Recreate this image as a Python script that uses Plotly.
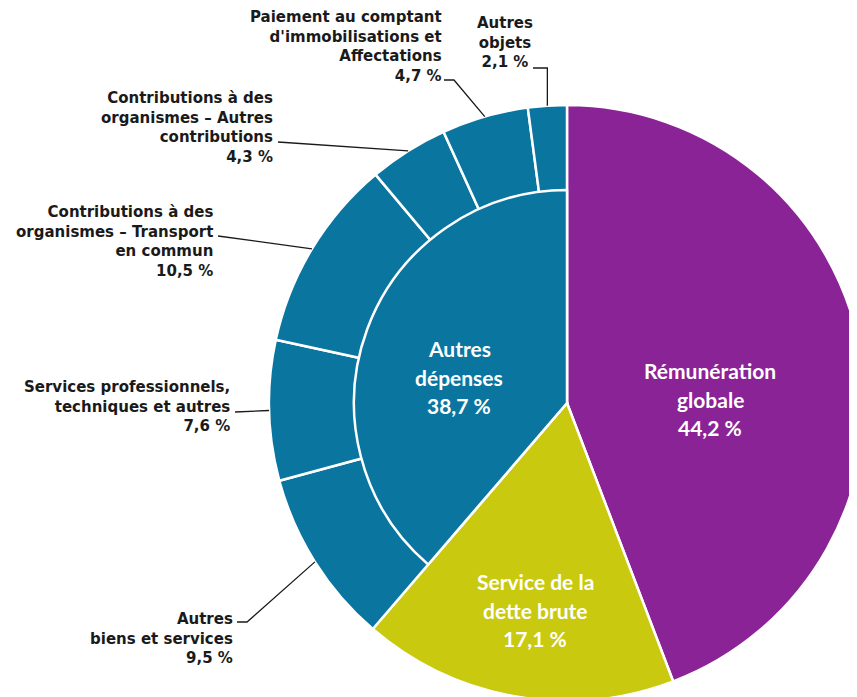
import math
import plotly.graph_objects as go

W, H = 857, 697
OFF = 8  # page body margin: the figure starts 8 px right and down

# ---- data ----
inner_labels = ["Rémunération globale", "Service de la dette brute", "Autres dépenses"]
inner_values = [44.2, 17.1, 38.7]

outer_labels = [
    "Rémunération globale",
    "Service de la dette brute",
    "Autres biens et services",
    "Services professionnels, techniques et autres",
    "Contributions à des organismes – Transport en commun",
    "Contributions à des organismes – Autres contributions",
    "Paiement au comptant d'immobilisations et Affectations",
    "Autres objets",
]
outer_values = [44.2, 17.1, 9.5, 7.6, 10.5, 4.3, 4.7, 2.1]

# text as shown on the chart (line breaks)
inner_text = [["Rémunération", "globale"], ["Service de la", "dette brute"], ["Autres", "dépenses"]]
outer_text = [
    None,
    None,
    ["Autres", "biens et services"],
    ["Services professionnels,", "techniques et autres"],
    ["Contributions à des", "organismes – Transport", "en commun"],
    ["Contributions à des", "organismes – Autres", "contributions"],
    ["Paiement au comptant", "d'immobilisations et", "Affectations"],
    ["Autres", "objets"],
]

PURPLE = "#8a2396"
YELLOW = "#c9c90f"
BLUE = "#0a76a0"
outer_colors = [PURPLE, YELLOW] + [BLUE] * 6
inner_colors = ["rgba(0,0,0,0)", "rgba(0,0,0,0)", BLUE]

# ---- geometry (page pixels) ----
CX, CY, R = 567, 403, 298
R_IN = 213


def paper(x, y):
    return (x - OFF) / W, 1 - (y - OFF) / H


def fmt(v):
    return f"{v:.1f}".replace(".", ",") + " %"


fx0, fy0 = CX - OFF, CY - OFF  # centre in figure pixels

fig = go.Figure()
fig.add_trace(go.Pie(
    labels=outer_labels, values=outer_values, sort=False, direction="clockwise",
    rotation=0, textinfo="none", hoverinfo="label+value",
    marker=dict(colors=outer_colors, line=dict(color="white", width=2.5)),
    domain=dict(x=[(fx0 - R) / W, min(1, (fx0 + R) / W)],
                y=[(H - fy0 - R) / H, (H - fy0 + R) / H]),
    showlegend=False,
))
fig.add_trace(go.Pie(
    labels=inner_labels, values=inner_values, sort=False, direction="clockwise",
    rotation=0, textinfo="none", hoverinfo="label+value",
    marker=dict(colors=inner_colors,
                line=dict(color="white", width=[0, 0, 2.5])),
    domain=dict(x=[(fx0 - R_IN) / W, (fx0 + R_IN) / W],
                y=[(H - fy0 - R_IN) / H, (H - fy0 + R_IN) / H]),
    showlegend=False,
))

annotations = []
shapes = []

# centre labels (white)
inner_pos = [(710, 399), (535, 610), (459, 377)]
step = 28.5
for lines, v, (x, y) in zip(inner_text, inner_values, inner_pos):
    all_lines = lines + [fmt(v)]
    y0 = y - step * (len(all_lines) - 1) / 2
    for k, ln in enumerate(all_lines):
        px_, py_ = paper(x, y0 + k * step)
        annotations.append(dict(
            x=px_, y=py_, xref="paper", yref="paper", text=ln, showarrow=False,
            xanchor="center", yanchor="middle",
            font=dict(family="Lato", size=21, color="white", weight="bold"),
        ))

# outer labels: (x, y-centre, align)
outer_pos = {
    2: (235, 638, "right"),
    3: (232, 406, "right"),
    4: (215, 242, "right"),
    5: (275, 128, "right"),
    6: (444, 47, "right"),
    7: (505, 42, "center"),
}
# leader line start (and elbow) next to the label
leader_start = {
    2: [(237, 622), (247, 622)],
    3: [(235, 412)],
    4: [(218, 236)],
    5: [(278, 142)],
    6: [(444, 80), (454, 80)],
    7: [(533, 68), None],
}

total = sum(outer_values)
cum = 0
for i, v in enumerate(outer_values):
    mid = (cum + v / 2) / total * 2 * math.pi
    cum += v
    if outer_text[i] is None:
        continue
    ax = CX + R * math.sin(mid)
    ay = CY - R * math.cos(mid)
    x, y, al = outer_pos[i]
    px_, py_ = paper(x, y)
    annotations.append(dict(
        x=px_, y=py_, xref="paper", yref="paper",
        text="<br>".join(outer_text[i] + [fmt(v)]), showarrow=False,
        xanchor=al, yanchor="middle", align=al,
        font=dict(family="DejaVu Sans", size=15, color="#1a1a1a", weight="bold"),
    ))
    pts = []
    for p in leader_start[i]:
        if p is None:
            p = (ax, pts[-1][1])
        pts.append(p)
    pts.append((ax, ay))
    path = ""
    for k, (qx, qy) in enumerate(pts):
        fx, fy = paper(qx, qy)
        path += ("M" if k == 0 else "L") + f"{fx},{fy}"
    shapes.append(dict(type="path", xref="paper", yref="paper", path=path,
                       line=dict(color="#1a1a1a", width=1.3)))

fig.update_layout(
    width=W, height=H, margin=dict(l=0, r=0, t=0, b=0),
    paper_bgcolor="white", plot_bgcolor="white",
    annotations=annotations, shapes=shapes,
)

fig.write_html("out.html")
